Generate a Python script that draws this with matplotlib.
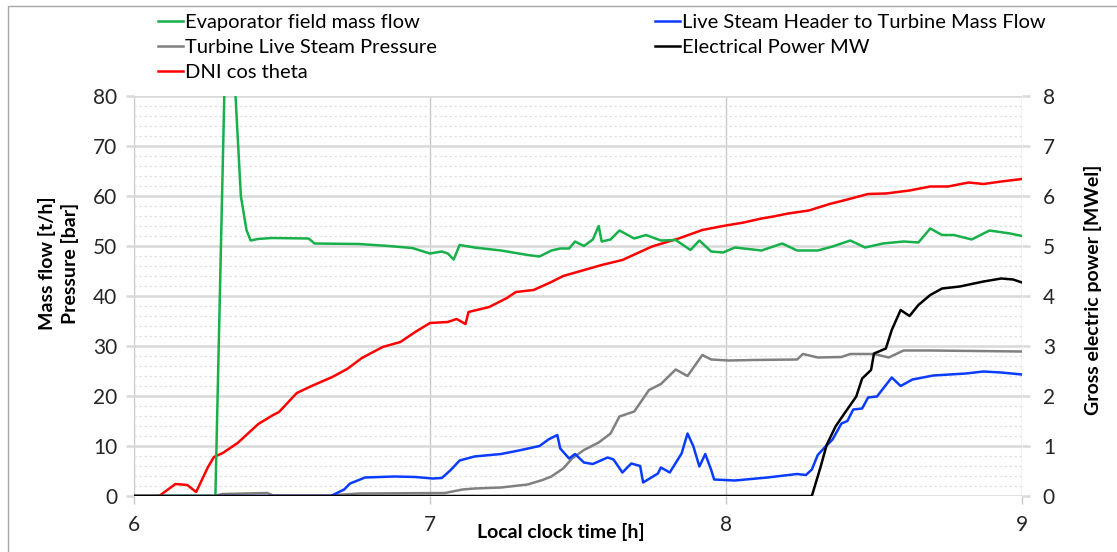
import matplotlib
matplotlib.use("Agg")
import matplotlib.pyplot as plt
from matplotlib.patches import Rectangle

plt.rcParams['font.family'] = ['Lato', 'DejaVu Sans']

# Evaporator field mass flow [t/h]
evap_t = [6.0, 6.275, 6.305, 6.325, 6.343, 6.361, 6.38, 6.394, 6.418, 6.466, 6.59, 6.61,
          6.76, 6.86, 6.94, 7.0, 7.04, 7.06, 7.08, 7.10, 7.15, 7.24, 7.33, 7.37, 7.41,
          7.44, 7.47, 7.49, 7.52, 7.55, 7.57, 7.58, 7.61, 7.64, 7.69, 7.73, 7.78, 7.83,
          7.88, 7.91, 7.95, 7.99, 8.03, 8.12, 8.19, 8.24, 8.31, 8.36, 8.42, 8.47, 8.53,
          8.60, 8.65, 8.69, 8.73, 8.77, 8.83, 8.89, 8.96, 9.0]
evap_v = [0, 0, 80, 125, 80, 60, 53.2, 51.1, 51.4, 51.6, 51.5, 50.5,
          50.4, 50.0, 49.6, 48.5, 48.9, 48.5, 47.3, 50.2, 49.7, 49.1, 48.2, 47.9, 49.1,
          49.5, 49.5, 50.9, 50.0, 51.3, 54.0, 50.9, 51.3, 53.1, 51.5, 52.2, 51.1, 51.2,
          49.2, 51.1, 48.9, 48.7, 49.7, 49.1, 50.5, 49.1, 49.1, 49.9, 51.1, 49.7, 50.5,
          50.9, 50.7, 53.5, 52.2, 52.2, 51.3, 53.1, 52.5, 52.0]

# Live steam header to turbine mass flow [t/h]
header_t = [6.0, 6.665, 6.71, 6.73, 6.76, 6.78, 6.88, 6.95, 7.01, 7.04, 7.07, 7.10, 7.15,
            7.24, 7.30, 7.37, 7.40, 7.43, 7.44, 7.47, 7.49, 7.52, 7.55, 7.60, 7.62, 7.65,
            7.68, 7.71, 7.72, 7.77, 7.78, 7.81, 7.85, 7.87, 7.89, 7.91, 7.93, 7.95, 7.96,
            8.03, 8.14, 8.24, 8.27, 8.29, 8.31, 8.33, 8.36, 8.39, 8.41, 8.43, 8.46, 8.48,
            8.51, 8.56, 8.59, 8.63, 8.70, 8.81, 8.87, 8.93, 9.0]
header_v = [0, 0, 1.3, 2.5, 3.2, 3.7, 3.9, 3.8, 3.5, 3.6, 5.2, 7.1, 7.9,
            8.4, 9.1, 10.0, 11.3, 12.2, 9.5, 7.5, 8.4, 6.7, 6.4, 7.7, 7.3, 4.7,
            6.5, 6.0, 2.7, 4.5, 5.7, 4.7, 8.5, 12.5, 9.9, 5.9, 8.4, 5.2, 3.3,
            3.1, 3.7, 4.4, 4.2, 5.3, 8.2, 9.5, 11.3, 14.5, 15.0, 17.3, 17.5, 19.7,
            19.9, 23.7, 22.0, 23.3, 24.1, 24.5, 24.9, 24.7, 24.3]

# Turbine live steam pressure [bar]
press_t = [6.0, 6.27, 6.30, 6.45, 6.47, 6.66, 6.76, 7.05, 7.11, 7.15, 7.24, 7.33, 7.38,
           7.41, 7.45, 7.48, 7.52, 7.57, 7.61, 7.64, 7.69, 7.74, 7.78, 7.83, 7.87, 7.92,
           7.95, 8.01, 8.09, 8.24, 8.26, 8.31, 8.39, 8.42, 8.50, 8.55, 8.60, 8.69, 9.0]
press_v = [0, 0, 0.4, 0.6, 0.1, 0.1, 0.5, 0.6, 1.3, 1.5, 1.7, 2.3, 3.2,
           3.9, 5.5, 7.5, 9.2, 10.7, 12.5, 15.9, 16.9, 21.2, 22.4, 25.3, 24.0, 28.2,
           27.3, 27.1, 27.2, 27.3, 28.4, 27.7, 27.8, 28.4, 28.4, 27.7, 29.1, 29.1, 28.9]

# DNI cos theta (left axis scale)
dni_t = [6.0, 6.085, 6.14, 6.18, 6.21, 6.25, 6.27, 6.30, 6.35, 6.42, 6.47, 6.49, 6.55,
         6.60, 6.67, 6.72, 6.77, 6.84, 6.90, 6.95, 7.00, 7.06, 7.09, 7.12, 7.13, 7.20,
         7.26, 7.29, 7.35, 7.41, 7.45, 7.58, 7.65, 7.75, 7.84, 7.92, 7.99, 8.06, 8.12,
         8.16, 8.21, 8.28, 8.35, 8.41, 8.48, 8.54, 8.62, 8.69, 8.75, 8.82, 8.87, 8.93, 9.0]
dni_v = [0, 0, 2.4, 2.2, 0.8, 5.8, 7.8, 8.6, 10.6, 14.4, 16.2, 16.8, 20.6,
         22.0, 23.8, 25.4, 27.6, 29.8, 30.8, 32.8, 34.6, 34.8, 35.4, 34.4, 36.8, 37.8,
         39.6, 40.8, 41.2, 42.8, 44.0, 46.2, 47.2, 49.9, 51.5, 53.2, 54.0, 54.7, 55.5,
         55.9, 56.5, 57.1, 58.4, 59.3, 60.4, 60.5, 61.1, 61.9, 61.9, 62.7, 62.4, 62.9, 63.4]

# Electrical power [MW]
power_t = [6.0, 8.29, 8.32, 8.34, 8.37, 8.40, 8.44, 8.46, 8.49, 8.50, 8.54, 8.56, 8.59,
           8.62, 8.65, 8.69, 8.73, 8.79, 8.87, 8.93, 8.97, 9.0]
power_v = [0, 0, 0.59, 1.02, 1.39, 1.65, 1.99, 2.35, 2.52, 2.85, 2.95, 3.32, 3.72,
           3.60, 3.82, 4.02, 4.15, 4.19, 4.29, 4.35, 4.33, 4.27]

hour_ticks = [6, 7, 8, 9]

W, H = 1117, 552
fig = plt.figure(figsize=(W / 100, H / 100), dpi=100)
fig.patches.append(Rectangle((8 / W, -0.1), 1.2, 1.1 - 6 / H, transform=fig.transFigure,
                             fill=False, edgecolor='#a6a6a6', lw=1.0))

ax = fig.add_axes([134 / W, 1 - 496 / H, (1022 - 134) / W, 400 / H])
ax2 = ax.twinx()

lw = 1.8
l_press, = ax.plot(press_t, press_v, color='#808080', lw=lw, label='Turbine Live Steam Pressure')
l_head, = ax.plot(header_t, header_v, color='#0a3cff', lw=lw, label='Live Steam Header to Turbine Mass Flow')
l_dni, = ax.plot(dni_t, dni_v, color='#ff0000', lw=lw, label='DNI cos theta')
l_evap, = ax.plot(evap_t, evap_v, color='#17b04a', lw=lw, label='Evaporator field mass flow')
l_pow, = ax2.plot(power_t, power_v, color='#000000', lw=lw, label='Electrical Power MW')

ax.set_xlim(6, 9)
ax.set_ylim(0, 80)
ax2.set_ylim(0, 8)
ax.set_xticks(hour_ticks)
ax.set_yticks(range(0, 81, 10))
ax.set_yticks(range(0, 81, 2), minor=True)
ax2.set_yticks(range(0, 9))

ax.set_axisbelow(True)
ax.grid(axis='y', which='major', color='#d9d9d9', lw=1.8)
ax.grid(axis='y', which='minor', color='#e0e0e0', lw=0.9, ls=(0, (2, 2)))
ax.grid(axis='x', which='major', color='#c8c8c8', lw=1.0)

for a in (ax, ax2):
    for s in a.spines.values():
        s.set_visible(False)
tick_size = 15
ax.tick_params(axis='y', which='minor', length=0)
ax.tick_params(axis='y', which='major', length=6, color='#d9d9d9', width=1.8,
               labelsize=tick_size, pad=6, labelcolor='#262626')
ax.tick_params(axis='x', length=6, color='#c8c8c8', width=1.0, labelsize=tick_size, pad=8,
               labelcolor='#262626')
ax2.tick_params(axis='y', length=6, color='#d9d9d9', width=1.8, labelsize=tick_size, pad=9,
                labelcolor='#262626')

lab_size = 14
fig.text(47 / W, 1 - 263 / H, 'Mass flow [t/h]', rotation=90, ha='center', va='center',
         fontsize=lab_size, fontweight='bold')
fig.text(70 / W, 1 - 263 / H, 'Pressure [bar]', rotation=90, ha='center', va='center',
         fontsize=lab_size, fontweight='bold')
fig.text(1093 / W, 1 - 290 / H, 'Gross electric power [MWel]', rotation=90, ha='center',
         va='center', fontsize=lab_size, fontweight='bold')
fig.text(561 / W, 1 - 532 / H, 'Local clock time [h]', ha='center', va='center',
         fontsize=lab_size, fontweight='bold')

leg_kw = dict(frameon=False, fontsize=14.5, handlelength=1.25, handletextpad=0.1,
              borderpad=0, borderaxespad=0, labelspacing=0.4)
fig.legend(handles=[l_evap, l_press, l_dni], loc='upper left',
           bbox_to_anchor=(158 / W, 1 - 14 / H), **leg_kw)
fig.legend(handles=[l_head, l_pow], loc='upper left',
           bbox_to_anchor=(655 / W, 1 - 14 / H), **leg_kw)

fig.savefig('out.png', dpi=100)
